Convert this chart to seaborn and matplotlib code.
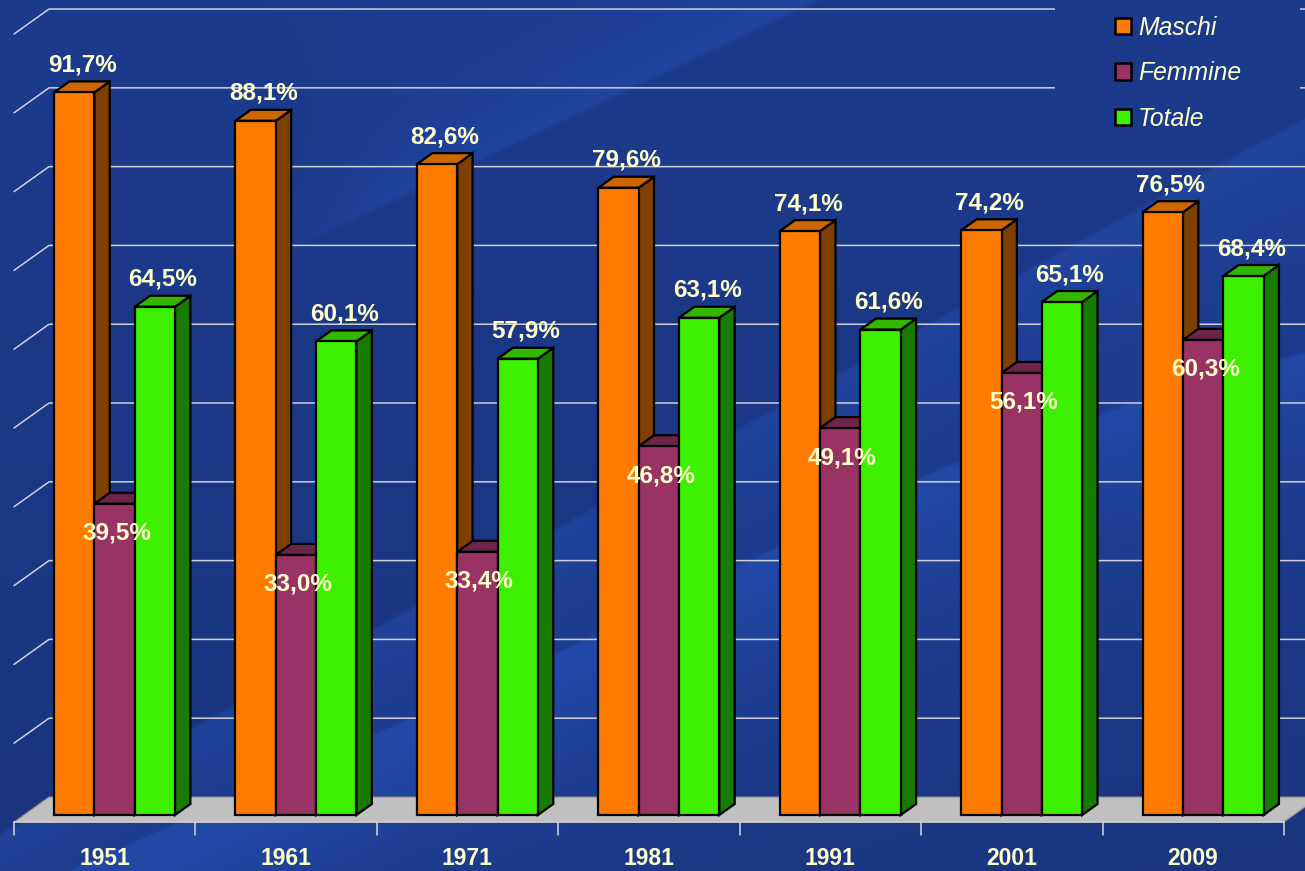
import numpy as np
import pandas as pd
import matplotlib
matplotlib.use("Agg")
import matplotlib.pyplot as plt
import seaborn as sns
from matplotlib.patches import Polygon, Rectangle
from matplotlib.lines import Line2D
from matplotlib.transforms import IdentityTransform
from matplotlib.font_manager import FontProperties

# ---- data -------------------------------------------------------------
years = ["1951", "1961", "1971", "1981", "1991", "2001", "2009"]
maschi = [91.7, 88.1, 82.6, 79.6, 74.1, 74.2, 76.5]
femmine = [39.5, 33.0, 33.4, 46.8, 49.1, 56.1, 60.3]
totale = [64.5, 60.1, 57.9, 63.1, 61.6, 65.1, 68.4]
series = ["Maschi", "Femmine", "Totale"]
grid_values = [10, 20, 30, 40, 50, 60, 70, 80, 90, 100]

df = pd.DataFrame({
    "Anno": years * 3,
    "Serie": np.repeat(series, len(years)),
    "Valore": maschi + femmine + totale,
})

# ---- style ------------------------------------------------------------
W, H, DPI = 1305, 871, 100
CREAM = "#FFFFCC"
front_col = {"Maschi": "#FF7C00", "Femmine": "#993366", "Totale": "#3CF000"}
top_col = {"Maschi": "#CC6600", "Femmine": "#6E2448", "Totale": "#33B800"}
side_col = {"Maschi": "#7F3F00", "Femmine": "#5A1D3C", "Totale": "#187A00"}
EDGE_LW = 1.6

# 3D depth: one depth unit moves 1.4 px right and 1 px up
DX, DY = 1.4, 1.0
BAR_DEPTH = 11
FLOOR_FRONT, BACK_WALL = -7, 18

sns.set_theme(style="white")
plt.rcParams["font.family"] = ["Liberation Sans", "DejaVu Sans"]

fig = plt.figure(figsize=(W / DPI, H / DPI), dpi=DPI)
ax = fig.add_axes([0, 0, 1, 1])

sns.barplot(data=df, x="Anno", y="Valore", hue="Serie", order=years,
            hue_order=series, palette=front_col, width=2 / 3,
            saturation=1, edgecolor="black", linewidth=EDGE_LW,
            errorbar=None, legend=False, ax=ax)

XLIM = (-0.6312, 6.5617)
YLIM = (-7.107, 103.43)


def fix_limits():
    ax.set_xlim(*XLIM)
    ax.set_ylim(*YLIM)


fix_limits()
ax.axis("off")

# ---- background gradient ---------------------------------------------
Yg, Xg = np.mgrid[0:H, 0:W].astype(float)
c_top = np.array([0x1D, 0x3B, 0x8D]) / 255
c_bot = np.array([0x1A, 0x34, 0x7E]) / 255
c_light = np.array([0x22, 0x48, 0xA6]) / 255
t = (Yg / H)[..., None]
bg = c_top * (1 - t) + c_bot * t


def smooth(a, b, x):
    u = np.clip((x - a) / (b - a), 0, 1)
    return u * u * (3 - 2 * u)


def line_dist(p0, p1):
    (x0, y0), (x1, y1) = p0, p1
    nx, ny = -(y1 - y0), (x1 - x0)
    return ((Xg - x0) * nx + (Yg - y0) * ny) / np.hypot(nx, ny)


# main swoosh: lighter just below a curved edge, fading downward
sx = [0, 580, 937, 1120, 1305]
sy = [900, 640, 468, 405, 350]
sA = Yg - np.interp(Xg, sx, sy)
wA = np.clip(sA / 5, 0, 1) * np.exp(-np.clip(sA, 0, None) / 130)

# upper streak: lighter on the upper-left side of a short diagonal
sB = -line_dist((380, 210), (613, 100))
wB = np.clip(sB / 5, 0, 1) * np.exp(-np.clip(sB, 0, None) / 90) * smooth(230, 420, Xg)

# right streak below the legend
sC = line_dist((1150, 200), (1305, 115))
wC = np.clip(sC / 5, 0, 1) * np.exp(-np.clip(sC, 0, None) / 170)

w = np.clip(0.85 * wA + 0.7 * wB + 0.7 * wC, 0, 1)[..., None]
bg = bg * (1 - w) + c_light * w
ax.imshow(bg, extent=[0, 1, 0, 1], transform=ax.transAxes,
          aspect="auto", zorder=0, interpolation="bilinear")
fix_limits()


def P(x, v, d):
    px, py = ax.transData.transform((x, v))
    return (px + DX * d, py + DY * d)


ident = IdentityTransform()
x_left, x_right = -0.5, len(years) - 0.5

# ---- back wall gridlines and side-wall diagonals ---------------------
grid_kw = dict(color="#D0D0D6", lw=1.1, transform=ident, zorder=1)
for v in grid_values:
    a = P(x_left, v, BACK_WALL)
    b = P(x_right + 0.3, v, BACK_WALL)
    c = P(x_left, v, FLOOR_FRONT)
    ax.add_line(Line2D([c[0], a[0], b[0]], [c[1], a[1], b[1]], **grid_kw))

# ---- floor -----------------------------------------------------------
floor = [P(x_left, 0, FLOOR_FRONT), P(x_right, 0, FLOOR_FRONT),
         P(x_right, 0, BACK_WALL), P(x_left, 0, BACK_WALL)]
ax.add_patch(Polygon(floor, closed=True, facecolor="#C0C0C0",
                     edgecolor="#8A8A8A", lw=0.8, transform=ident, zorder=1.2))

# category axis with tick marks
axis_kw = dict(color="#D8D8D8", lw=1.1, transform=ident, zorder=1.3)
a = P(x_left, 0, FLOOR_FRONT)
b = P(x_right, 0, FLOOR_FRONT)
ax.add_line(Line2D([a[0], b[0]], [a[1], b[1]], **axis_kw))
for k in range(len(years) + 1):
    p = P(k - 0.5, 0, FLOOR_FRONT)
    ax.add_line(Line2D([p[0], p[0]], [p[1], p[1] - 13], **axis_kw))

# ---- extruded bars: side and top faces behind each front face ---------
for h, (name, cont) in enumerate(zip(series, ax.containers)):
    for bar in cont:
        x0, wbar, v = bar.get_x(), bar.get_width(), bar.get_height()
        x1 = x0 + wbar
        side = [P(x1, 0, 0), P(x1, 0, BAR_DEPTH), P(x1, v, BAR_DEPTH), P(x1, v, 0)]
        top = [P(x0, v, 0), P(x1, v, 0), P(x1, v, BAR_DEPTH), P(x0, v, BAR_DEPTH)]
        for poly, col in ((side, side_col[name]), (top, top_col[name])):
            ax.add_patch(Polygon(poly, closed=True, facecolor=col,
                                 edgecolor="black", lw=EDGE_LW, joinstyle="miter",
                                 transform=ident, zorder=2 + 2 * h))
        bar.set_zorder(3 + 2 * h)
        bar.set_joinstyle("miter")

# ---- value labels ----------------------------------------------------
label_kw = dict(textcoords="offset pixels", ha="center", va="baseline",
                color=CREAM, fontsize=17.5, fontweight="bold", zorder=20)
for name, cont, vals in zip(series, ax.containers, (maschi, femmine, totale)):
    for bar, v in zip(cont, vals):
        xc = bar.get_x() + bar.get_width() / 2
        off = (2, -36) if name == "Femmine" else (8, 21)
        ax.annotate(f"{v:.1f}%".replace(".", ","), xy=(xc, v), xytext=off,
                    **label_kw)

# year labels under the floor
for i, yr in enumerate(years):
    ax.annotate(yr, xy=(i, 0), xytext=(-10, -50), textcoords="offset pixels",
                ha="center", va="baseline", color=CREAM, fontsize=16.5,
                fontweight="bold", zorder=20)

# ---- legend ----------------------------------------------------------
# background copy clipped to the legend box, covering the gridlines there
legend_bg = ax.imshow(bg, extent=[0, 1, 0, 1], transform=ax.transAxes,
                      aspect="auto", zorder=1.5, interpolation="bilinear")
legend_bg.set_clip_path(Rectangle((1055, H - 140), 245, 140, transform=ident))
fix_limits()

handles = [Rectangle((0, 0), 1, 1, facecolor=front_col[s], edgecolor="black",
                     lw=1.8) for s in series]
leg = ax.legend(handles, series, loc="upper left",
                bbox_to_anchor=(1115 / W, 1 - 16 / H), bbox_transform=fig.transFigure,
                frameon=False, borderpad=0, borderaxespad=0,
                handlelength=0.64, handleheight=0.64, handletextpad=0.3,
                labelspacing=0.86,
                prop=FontProperties(family=["Liberation Sans", "DejaVu Sans"],
                                    style="italic", size=17.8))
for txt in leg.get_texts():
    txt.set_color(CREAM)
leg.set_zorder(30)

fig.savefig("out.png", dpi=DPI)
